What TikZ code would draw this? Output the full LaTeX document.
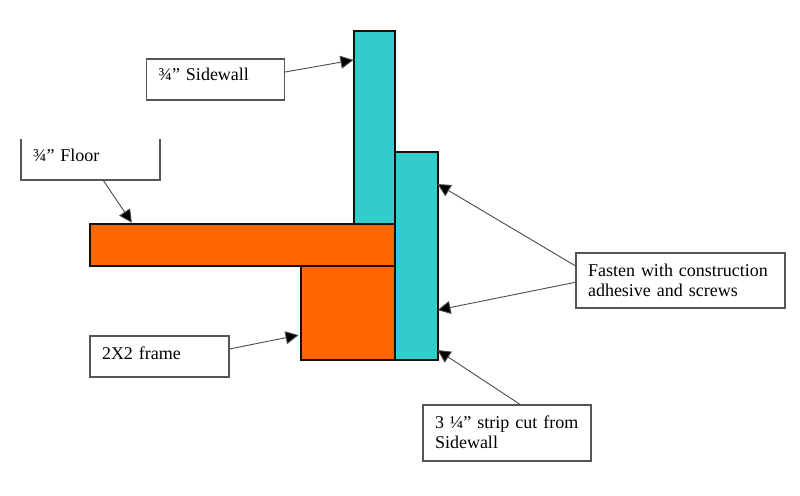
\documentclass[tikz,border=0pt]{standalone}
\usepackage{fontspec}
\setmainfont{Liberation Serif}
\usetikzlibrary{arrows.meta,calc}
\definecolor{teal1}{HTML}{33CCCC}
\definecolor{orange1}{HTML}{FF6600}
\definecolor{edge1}{HTML}{1A1008}
\definecolor{boxline}{HTML}{555555}
\tikzset{
  part/.style={draw=edge1,line width=2pt,inner sep=0pt,outer sep=0pt,anchor=north west},
  wallpart/.style={part,fill=teal1},
  woodpart/.style={part,fill=orange1},
  labelbox/.style={draw=boxline,line width=1.1pt,fill=white,inner xsep=12pt,inner ysep=0pt,outer sep=0pt,
    anchor=north west,align=left,font=\fontsize{18}{20}\selectfont,text=black},
  openbox/.style={labelbox,draw=none},
  leader/.style={draw=black!70,line width=0.9pt,-{Triangle[length=13pt,width=13pt,fill=black]}},
}
\begin{document}
\begin{tikzpicture}[x=1pt,y=-1pt]
\useasboundingbox (0,0) rectangle (800,495);
\fill[white] (0,0) rectangle (800,495);
% parts
\node[wallpart,minimum width=41.5pt,minimum height=193pt] (wall) at (353.5,31) {};
\node[wallpart,minimum width=42.5pt,minimum height=208pt] (strip) at (395,152) {};
\node[woodpart,minimum width=305pt,minimum height=42pt] (floor) at (90,224) {};
\node[woodpart,minimum width=94pt,minimum height=94pt] (frame) at (301,266) {};
% labels
\node[labelbox,text width=114pt,text height=22pt,text depth=19pt] (lside) at (146.5,59) {¾” Sidewall};
\node[openbox,text width=115pt,text height=22pt,text depth=19pt] (lfloor) at (21,139) {¾” Floor};
\draw[boxline,line width=1.1pt] (lfloor.north west) -- (lfloor.south west) -- (lfloor.south east) -- (lfloor.north east);
\node[labelbox,text width=115pt,text height=23pt,text depth=18pt] (lframe) at (90,336) {2X2 frame};
\node[labelbox,text width=185pt,text height=23pt,text depth=32pt] (lfasten) at (576,253) {Fasten with construction\\adhesive and screws};
\node[labelbox,text width=144pt,text height=23pt,text depth=33pt] (lstrip) at (423,405) {3 ¼” strip cut from\\Sidewall};
% connectors
\draw[leader] ($(lside.north east)!0.32!(lside.south east)$) -- ($(wall.north west)!0.15!(wall.south west)$);
\draw[leader,shorten >=1.5pt] ($(lfloor.south west)!0.59!(lfloor.south east)$) -- ($(floor.north west)!0.14!(floor.north east)$);
\draw[leader] ($(lfasten.north west)!0.24!(lfasten.south west)$) -- ($(strip.north east)!0.154!(strip.south east)$);
\draw[leader] ($(lfasten.north west)!0.53!(lfasten.south west)$) -- ($(strip.north east)!0.76!(strip.south east)$);
\draw[leader] ($(lstrip.north west)!0.583!(lstrip.north east)$) -- ($(strip.north east)!0.952!(strip.south east)$);
\draw[leader,shorten >=2.5pt] ($(lframe.north east)!0.32!(lframe.south east)$) -- ($(frame.north west)!0.73!(frame.south west)$);
\end{tikzpicture}
\end{document}
